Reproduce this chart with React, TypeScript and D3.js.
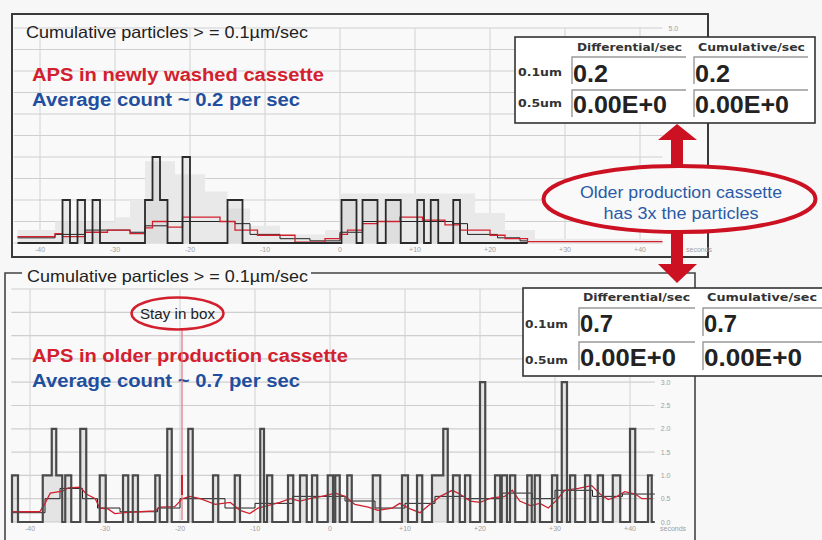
import React from 'react';
import * as d3 from 'd3';

// ---------- shared axis data ----------
const xTickValues = [-40, -30, -20, -10, 0, 10, 20, 30, 40];
const xTickLabels = ['-40', '-30', '-20', '-10', '0', '+10', '+20', '+30', '+40'];
const yTickValues = [0, 0.5, 1, 1.5, 2, 2.5, 3, 3.5, 4, 4.5, 5];
const topYLabelValues = [5];
const botYLabelValues = [0, 0.5, 1, 1.5, 2, 2.5, 3];

// ---------- top chart (newly washed cassette) ----------
const topPulseStart = [-37, -35, -33, -26, -25, -24, -21, -15, 0.2, 3, 6.1, 10.3, 12.1, 15.1];
const topPulseEnd = [-36, -34, -32, -25, -24, -23, -20, -13, 2.2, 5, 8.1, 11.2, 13.1, 16];
const topPulseLevel = [1, 1, 1, 1, 2, 1, 2, 1, 1, 1, 1, 1, 1, 1];

const topAvgT = [-43, -38, -37, -34, -31, -28, -26, -25, -23, -21, -16, -14, -11, -6, -2, 0, 1, 3, 5, 8, 11, 14, 16, 20, 22, 25, 43];
const topAvgV = [0.15, 0.22, 0.15, 0.25, 0.3, 0.22, 0.35, 0.5, 0.37, 0.6, 0.5, 0.3, 0.18, 0.02, 0.1, 0.2, 0.3, 0.45, 0.5, 0.6, 0.53, 0.42, 0.3, 0.18, 0.1, 0.03, 0.03];

const topBlackT = [-43, -38, -34, -28, -26, -23, -14, -12, -8, -4, 0, 3, 15, 17, 21, 24, 25];
const topBlackV = [0.12, 0.2, 0.3, 0.25, 0.4, 0.5, 0.45, 0.2, 0.1, 0.05, 0.25, 0.5, 0.45, 0.2, 0.12, 0.05, 0];

const topBgT = [-43, -38, -30, -28, -26, -22, -18, -15, -12, -8, -2, 0, 18, 22, 26, 43];
const topBgV = [0.3, 0.5, 0.6, 1.0, 1.9, 1.6, 1.2, 0.8, 0.4, 0.2, 0.3, 1.15, 0.7, 0.3, 0.1, 0.1];

// ---------- bottom chart (older production cassette) ----------
const botPulseStart = [-42.4, -38.3, -37.1, -36.5, -35.3, -33.3, -30.7, -27.6, -26.3, -23.3, -21.7, -18.9, -15.6, -12.7, -9.3, -8.4, -5.6, -4.0, -2.4, -0.3, 0.7, 2.3, 5.7, 9.6, 11.6, 13.6, 15.1, 16.4, 18.0, 20.0, 22.0, 22.9, 24.0, 26.3, 27.3, 29.6, 30.9, 32.0, 34.0, 35.7, 37.7, 40.0, 42.4];
const botPulseEnd = [-41.6, -37.1, -36.5, -35.7, -34.5, -32.5, -29.9, -26.9, -25.6, -22.7, -21.1, -18.3, -14.9, -12.0, -8.8, -7.7, -4.9, -3.1, -1.7, 0.4, 1.3, 2.9, 6.7, 10.4, 12.3, 15.1, 15.7, 17.3, 18.7, 20.7, 22.7, 23.6, 24.7, 26.9, 28.0, 30.3, 31.6, 32.7, 34.7, 36.4, 38.7, 40.7, 42.9];
const botPulseLevel = [1, 1, 2, 1, 1, 2, 1, 1, 1, 1, 2, 2, 1, 1, 2, 1, 1, 1, 1, 1, 1, 1, 1, 1, 1, 1, 2, 1, 1, 3, 1, 1, 1, 1, 1, 1, 3, 1, 1, 1, 1, 2, 1];

const botAvgT = [-42.5, -38.7, -38, -37.3, -35.7, -34.9, -33.3, -32.5, -31.3, -30.7, -29.6, -28.7, -27.3, -25.3, -23.3, -22.7, -20.7, -19.7, -18.7, -17.3, -15.3, -13.3, -12, -10.7, -9.6, -8.3, -6.7, -5.3, -4, -2.7, -1.1, 0.7, 2, 3.3, 5.1, 6.4, 8.3, 9.3, 10.7, 12, 13.1, 14.7, 16.3, 17.3, 18.7, 20, 21.6, 23.3, 24.3, 25.3, 26.7, 28, 29.1, 30.1, 31.3, 33.1, 34.9, 36, 37.1, 38.3, 39.3, 40.7, 41.6, 42.9];
const botAvgV = [0.22, 0.22, 0.4, 0.62, 0.66, 0.73, 0.75, 0.6, 0.5, 0.3, 0.28, 0.18, 0.2, 0.22, 0.24, 0.32, 0.33, 0.5, 0.55, 0.5, 0.38, 0.42, 0.25, 0.18, 0.3, 0.35, 0.42, 0.5, 0.45, 0.5, 0.55, 0.62, 0.55, 0.38, 0.32, 0.25, 0.3, 0.4, 0.28, 0.2, 0.35, 0.55, 0.68, 0.6, 0.45, 0.42, 0.52, 0.55, 0.68, 0.45, 0.35, 0.4, 0.3, 0.45, 0.68, 0.72, 0.78, 0.6, 0.48, 0.55, 0.65, 0.6, 0.5, 0.5];

const botBlackT = [-42.5, -38, -36, -33, -31, -28, -23, -20, -14, -10, -5, 2, 6, 10, 14, 18, 23, 27, 30, 35, 39, 43.3];
const botBlackV = [0.2, 0.5, 0.72, 0.5, 0.3, 0.22, 0.3, 0.5, 0.3, 0.4, 0.55, 0.45, 0.3, 0.4, 0.55, 0.5, 0.62, 0.5, 0.68, 0.55, 0.6, 0.6];

// ---------- annotation tables ----------
const tableHeaders = ['Differential/sec', 'Cumulative/sec'];
const tableRows = ['0.1um', '0.5um'];
const topTableValues = [['0.2', '0.2'], ['0.00E+0', '0.00E+0']];
const botTableValues = [['0.7', '0.7'], ['0.00E+0', '0.00E+0']];

const RED = '#d3202f';
const BLUE = '#1f4f9e';
const ARIAL = '"Liberation Sans", Arial, sans-serif';
const VERDANA = '"DejaVu Sans", Verdana, sans-serif';

function pulsePoints(starts: number[], ends: number[], levels: number[], t0: number, t1: number): [number, number][] {
  const pts: [number, number][] = [[t0, 0]];
  for (let i = 0; i < starts.length; i++) {
    pts.push([starts[i], levels[i]]);
    const next = i + 1 < starts.length ? starts[i + 1] : null;
    if (next === null || next > ends[i] + 1e-6) pts.push([ends[i], 0]);
  }
  pts.push([t1, 0]);
  return pts;
}

function zip(t: number[], v: number[]): [number, number][] {
  return t.map((d, i) => [d, v[i]]);
}

function Chart(props: {
  x: d3.ScaleLinear<number, number>;
  y: d3.ScaleLinear<number, number>;
  tMin: number; tMax: number;
  pulses: [number, number][];
  avg: [number, number][];
  avgStep: boolean;
  black: [number, number][];
  bg?: [number, number][];
  pulseStroke: string; pulseWidth: number; pulseFill: string;
  secondsX: number;
  yLabels: number[];
}) {
  const { x, y, tMin, tMax } = props;
  const x0 = x(tMin), x1 = x(tMax);
  const stepLine = d3.line<[number, number]>().x(d => x(d[0])).y(d => y(d[1])).curve(d3.curveStepAfter);
  const linLine = d3.line<[number, number]>().x(d => x(d[0])).y(d => y(d[1]));
  const stepArea = d3.area<[number, number]>().x(d => x(d[0])).y0(y(0)).y1(d => y(d[1])).curve(d3.curveStepAfter);
  return (
    <g>
      {yTickValues.map(v => (
        <line key={'h' + v} x1={x0} x2={x1} y1={y(v)} y2={y(v)} stroke="#cfcfcf" strokeWidth={1.2} />
      ))}
      {xTickValues.map(v => (
        <line key={'v' + v} x1={x(v)} x2={x(v)} y1={y(5)} y2={y(0)} stroke="#d2d2d2" strokeWidth={1} />
      ))}
      {props.bg && <path d={stepArea(props.bg) || ''} fill="#e9e9e9" />}
      <path d={stepArea(props.pulses) || ''} fill={props.pulseFill} />
      <path d={stepLine(props.black) || ''} fill="none" stroke="#222" strokeWidth={1} />
      <path d={(props.avgStep ? stepLine(props.avg) : linLine(props.avg)) || ''} fill="none" stroke={RED} strokeWidth={1.3} />
      <path d={stepLine(props.pulses) || ''} fill="none" stroke={props.pulseStroke} strokeWidth={props.pulseWidth} />
      {xTickValues.map((v, i) => (
        <text key={'xl' + v} x={x(v)} y={y(0) + 9} fontSize={7} fill="#a0a0a0" textAnchor="middle" fontFamily={ARIAL}>{xTickLabels[i]}</text>
      ))}
      <text x={props.secondsX} y={y(0) + 9} fontSize={7} fill="#a0a0a0" fontFamily={ARIAL}>seconds</text>
      {props.yLabels.map(v => (
        <text key={'yl' + v} x={x1 + 6} y={y(v) + 2.5} fontSize={7} fill="#a0a0a0" fontFamily={ARIAL}>{v.toFixed(1)}</text>
      ))}
    </g>
  );
}

function Table(props: {
  x: number; y: number; w: number; h: number;
  headX: number[]; headY: number; headW: number[];
  rowX: number; rowY: number[]; rowW: number;
  valX: number[]; valY: number[]; valW: number[][];
  cellY: number[]; cellW: number[]; cellH: number;
  values: string[][];
}) {
  return (
    <g>
      <rect x={props.x} y={props.y} width={props.w} height={props.h} fill="#ffffff" stroke="#333" strokeWidth={1.6} />
      {tableHeaders.map((h, i) => (
        <text key={h} x={props.headX[i]} y={props.headY} fontSize={10.5} fontWeight="bold" fill="#333" fontFamily={VERDANA} textLength={props.headW[i]} lengthAdjust="spacingAndGlyphs">{h}</text>
      ))}
      {tableRows.map((r, j) => (
        <g key={r}>
          <text x={props.rowX} y={props.rowY[j]} fontSize={10} fontWeight="bold" fill="#333" fontFamily={VERDANA} textLength={props.rowW} lengthAdjust="spacingAndGlyphs">{r}</text>
          {props.valX.map((vx, i) => (
            <g key={i}>
              <path d={`M${vx - 1},${props.cellY[j] + props.cellH} V${props.cellY[j]} H${vx - 1 + props.cellW[i]}`} fill="none" stroke="#999" strokeWidth={1.4} />
              <text x={vx} y={props.valY[j]} fontSize={24} fontWeight="bold" fill="#222" fontFamily={ARIAL} textLength={props.valW[j][i]} lengthAdjust="spacingAndGlyphs">{props.values[j][i]}</text>
            </g>
          ))}
        </g>
      ))}
    </g>
  );
}

export default function App() {
  const xT = d3.scaleLinear().domain([-40, 40]).range([40, 640]);
  const yT = d3.scaleLinear().domain([0, 5]).range([243, 28]);
  const xB = d3.scaleLinear().domain([-40, 40]).range([30, 630]);
  const yB = d3.scaleLinear().domain([0, 5]).range([522, 289]);

  const topPulses = pulsePoints(topPulseStart, topPulseEnd, topPulseLevel, -43, 25);
  const botPulses = pulsePoints(botPulseStart, botPulseEnd, botPulseLevel, -42.5, 43.3);

  return (
    <svg width={822} height={540} style={{ position: 'fixed', left: 0, top: 0, background: '#f7f7f7' }}>
      <rect x={0} y={0} width={822} height={540} fill="#f7f7f7" />

      {/* top panel */}
      <rect x={12} y={14} width={696} height={243} fill="#f9f9f9" stroke="#3a3a3a" strokeWidth={2} />
      <Chart x={xT} y={yT} tMin={-43.5} tMax={43} pulses={topPulses}
        avg={zip(topAvgT, topAvgV)} avgStep={true} black={zip(topBlackT, topBlackV)} bg={zip(topBgT, topBgV)}
        pulseStroke="#2a2a2a" pulseWidth={1.8} pulseFill="rgba(200,200,200,0.3)" secondsX={686} yLabels={topYLabelValues} />
      <text x={26} y={38} fontSize={16.5} fill="#222" fontFamily={ARIAL} textLength={282} lengthAdjust="spacingAndGlyphs">Cumulative particles &gt; = 0.1µm/sec</text>
      <text x={32} y={81} fontSize={18} fontWeight="bold" fill={RED} fontFamily={ARIAL} textLength={292} lengthAdjust="spacingAndGlyphs">APS in newly washed cassette</text>
      <text x={32} y={106} fontSize={18} fontWeight="bold" fill={BLUE} fontFamily={ARIAL} textLength={268} lengthAdjust="spacingAndGlyphs">Average count ~ 0.2 per sec</text>

      {/* bottom panel */}
      <rect x={5} y={273} width={690} height={280} fill="#f9f9f9" stroke="none" />
      <path d="M22,273 H5 V545 M311,273 H695 V545" fill="none" stroke="#444" strokeWidth={1.6} />
      <Chart x={xB} y={yB} tMin={-42.5} tMax={43.3} pulses={botPulses}
        avg={zip(botAvgT, botAvgV)} avgStep={false} black={zip(botBlackT, botBlackV)}
        pulseStroke="#4a4a4a" pulseWidth={2.2} pulseFill="rgba(190,190,190,0.35)" secondsX={660} yLabels={botYLabelValues} />
      <text x={27} y={282} fontSize={16.5} fill="#222" fontFamily={ARIAL} textLength={281} lengthAdjust="spacingAndGlyphs">Cumulative particles &gt; = 0.1µm/sec</text>
      <text x={32} y={362} fontSize={18} fontWeight="bold" fill={RED} fontFamily={ARIAL} textLength={316} lengthAdjust="spacingAndGlyphs">APS in older production cassette</text>
      <text x={32} y={387} fontSize={18} fontWeight="bold" fill={BLUE} fontFamily={ARIAL} textLength={268} lengthAdjust="spacingAndGlyphs">Average count ~ 0.7 per sec</text>

      {/* stay in box */}
      <line x1={182} x2={182} y1={330} y2={520} stroke="#e8707c" strokeWidth={1.2} />
      <line x1={182} x2={182} y1={475} y2={495} stroke={RED} strokeWidth={2} />
      <ellipse cx={177.5} cy={313.5} rx={46} ry={16} fill="none" stroke={RED} strokeWidth={2.6} />
      <text x={177.5} y={319} fontSize={15.5} fill="#222" textAnchor="middle" fontFamily={ARIAL} textLength={75} lengthAdjust="spacingAndGlyphs">Stay in box</text>

      {/* tables */}
      <Table x={515} y={37} w={300} h={86}
        headX={[577, 698]} headY={51} headW={[105, 107]}
        rowX={518} rowY={[76, 107]} rowW={44}
        valX={[573, 695]} valY={[82, 113]} valW={[[35, 35], [94, 94]]}
        cellY={[57, 90]} cellW={[114, 114]} cellH={27}
        values={topTableValues} />
      <Table x={523} y={288} w={310} h={88}
        headX={[583, 707]} headY={301} headW={[107, 110]}
        rowX={525} rowY={[328, 364]} rowW={43}
        valX={[580, 704]} valY={[332, 366]} valW={[[33, 33], [96, 98]]}
        cellY={[308, 342]} cellW={[116, 130]} cellH={28}
        values={botTableValues} />

      {/* arrows + callout */}
      <path d="M671,166 V140 H658 L677,124 L697,140 H683 V166 Z" fill="#cc1222" />
      <path d="M671,232 V264 H658 L677,283 L697,264 H683 V232 Z" fill="#cc1222" />
      <ellipse cx={679.5} cy={199} rx={136} ry={33} fill="#f9f9f9" stroke="#cc1222" strokeWidth={4} />
      <text x={681} y={198} fontSize={16} fill="#2a5aa8" textAnchor="middle" fontFamily={ARIAL} textLength={202} lengthAdjust="spacingAndGlyphs">Older production cassette</text>
      <text x={681} y={219} fontSize={16} fill="#2a5aa8" textAnchor="middle" fontFamily={ARIAL} textLength={155} lengthAdjust="spacingAndGlyphs">has 3x the particles</text>
    </svg>
  );
}
